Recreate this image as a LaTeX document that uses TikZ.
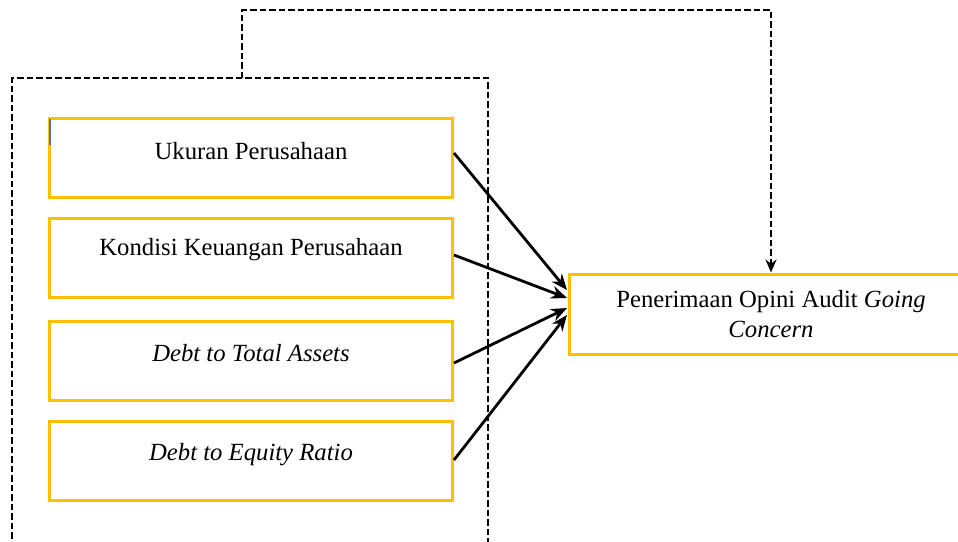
\documentclass[tikz,border=0pt]{standalone}
\usepackage{fontspec}
\setmainfont{Liberation Serif}
\usetikzlibrary{arrows.meta}
\definecolor{boxyellow}{HTML}{FFC000}
\definecolor{markblue}{HTML}{4472C4}
\tikzset{
  x=1pt, y=-1pt,
  varbox/.style={draw=boxyellow, line width=3pt, minimum width=403pt, minimum height=79pt, inner sep=0pt},
  vartext/.style={font=\fontsize{24.7}{30}\selectfont},
  italtext/.style={font=\fontsize{24.7}{30}\selectfont\itshape},
  dashline/.style={line width=2.3pt, dash pattern=on 6.5pt off 3pt},
  effect/.style={line width=2.8pt, -{Stealth[length=16pt,width=13pt]}},
  dasharrow/.style={dashline, -{Stealth[length=13pt,width=11pt]}}
}
\begin{document}
\begin{tikzpicture}
\useasboundingbox (0,0) rectangle (958,541);
\clip (0,0) rectangle (958,541);
% outer dashed frame
\coordinate (fbl) at (12,548);
\coordinate (ftl) at (12,78);
\coordinate (ftr) at (488,78);
\coordinate (fbr) at (488,548);
\draw[dashline] (fbl) -- (ftl) -- (ftr) -- (fbr);
% variable boxes
\node[varbox] (b1) at (250.5,157.5) {};
\node[vartext] (t1) at (251,151) {Ukuran Perusahaan};
\node[varbox] (b2) at (250.5,257.5) {};
\node[vartext] (t2) at (251,250) {Kondisi Keuangan Perusahaan};
\node[varbox] (b3) at (250.5,360.5) {};
\node[italtext] (t3) at (251,353) {Debt to Total Assets};
\node[varbox] (b4) at (250.5,460.5) {};
\node[italtext] (t4) at (251,455) {Debt to Equity Ratio};
% small blue mark
\coordinate (m1) at (50,119);
\coordinate (m2) at (50,145);
\draw[markblue, line width=2pt] (m1) -- (m2);
% dependent box
\node[draw=boxyellow, line width=3pt, minimum width=404pt, minimum height=80pt, inner sep=0pt] (dv) at (771,314) {};
\node[vartext, align=center] (tdv) at (771,314) {Penerimaan Opini Audit \textit{Going}\\\textit{Concern}};
% arrows
\coordinate (s1) at (454,153);
\coordinate (s2) at (454,255);
\coordinate (s3) at (454,363);
\coordinate (s4) at (454,460);
\coordinate (e1) at (567,290);
\coordinate (e2) at (567,298);
\coordinate (e3) at (567,308);
\coordinate (e4) at (567,315);
\draw[effect] (s1) -- (e1);
\draw[effect] (s2) -- (e2);
\draw[effect] (s3) -- (e3);
\draw[effect] (s4) -- (e4);
% moderating dashed connector
\coordinate (c0) at (242,78);
\coordinate (c1) at (242,10);
\coordinate (c2) at (771,10);
\draw[dasharrow] (c0) -- (c1) -- (c2) -- (dv.north);
\end{tikzpicture}
\end{document}
